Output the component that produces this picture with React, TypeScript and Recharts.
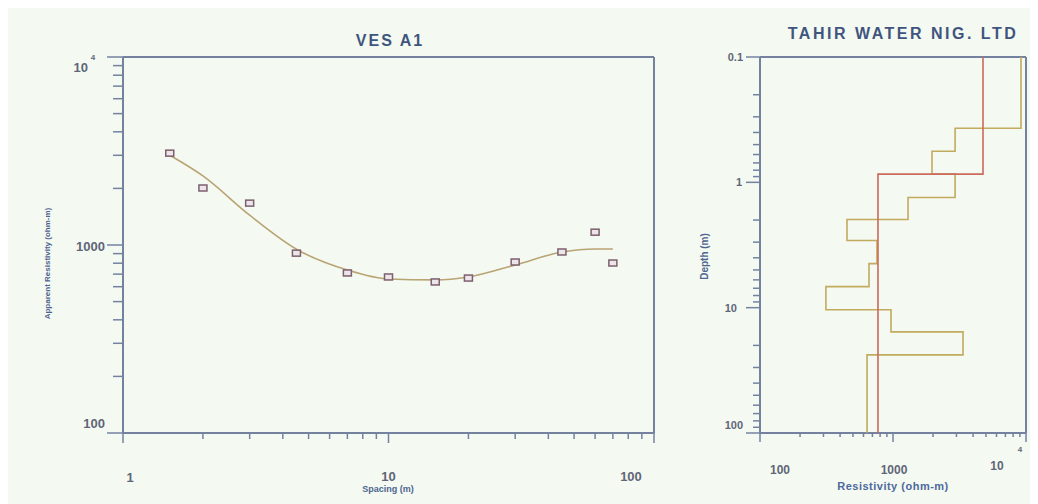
import React from "react";
import { ScatterChart, Scatter, XAxis, YAxis } from "recharts";

// VES A1 field data (AB/2 spacing vs apparent resistivity)
const spacing = [1.5, 2, 3, 4.5, 7, 10, 15, 20, 30, 45, 60, 70];
const apparentRes = [3080, 2010, 1670, 905, 710, 676, 636, 667, 812, 918, 1170, 802];

// computed model curve
const curveSpacing = [1.5, 2, 3, 4.5, 7, 10, 15, 20, 30, 45, 60, 70];
const curveRes = [3000, 2330, 1440, 950, 736, 659, 652, 676, 783, 918, 953, 953];

// layered models (resistivity per layer, depth boundaries)
const modelRes = [4750, 771];
const modelDepth = [0.1, 0.86, 100];
const altRes = [9170, 2930, 1965, 2930, 1297, 451, 758, 660, 313, 966, 3360, 638];
const altDepth = [0.1, 0.37, 0.565, 0.86, 1.32, 1.98, 2.91, 4.45, 6.79, 10.4, 15.6, 23.8, 100];

const spacingTicks = [1, 2, 3, 4, 5, 6, 7, 8, 9, 10, 20, 30, 40, 50, 60, 70, 80, 90, 100];
const appResTicks = [100, 200, 300, 400, 500, 600, 700, 800, 900, 1000, 2000, 3000, 4000, 5000, 6000, 7000, 8000, 9000, 10000];
const depthTicks = [0.1, 0.2, 0.3, 0.4, 0.5, 0.6, 0.7, 0.8, 0.9, 1, 2, 3, 4, 5, 6, 7, 8, 9, 10, 20, 30, 40, 50, 60, 70, 80, 90, 100];
const resTicks = [100, 200, 300, 400, 500, 600, 700, 800, 900, 1000, 2000, 3000, 4000, 5000, 6000, 7000, 8000, 9000, 10000];

const fieldData = spacing.map((s, i) => ({ x: s, y: apparentRes[i] }));
const curveData = curveSpacing.map((s, i) => ({ x: s, y: curveRes[i] }));

function stepData(res: number[], depth: number[]) {
  const pts: { x: number; y: number }[] = [];
  res.forEach((r, i) => {
    pts.push({ x: r, y: depth[i] });
    pts.push({ x: r, y: depth[i + 1] });
  });
  return pts;
}
const modelData = stepData(modelRes, modelDepth);
const altData = stepData(altRes, altDepth);

const AXIS = "#7482a0";
const LABEL = "#5f6678";
const FONT = "'Liberation Sans', Arial, sans-serif";

type Lab = { text: string; sup?: string; dx: number; dy: number; anchor?: string; sdx?: number; sdy?: number };
type TickCfg = {
  side: "left" | "right" | "top" | "bottom";
  majors: number[];
  major: number;
  minor: number;
  size?: number;
  labels?: Record<string, Lab>;
};

function makeTick(cfg: TickCfg) {
  return (props: any) => {
    const { x, y, payload } = props;
    const v = payload.value;
    const isMajor = cfg.majors.some((m) => Math.abs(m - v) / m < 1e-6);
    const len = isMajor ? cfg.major : cfg.minor;
    let x2 = x;
    let y2 = y;
    if (cfg.side === "left" || cfg.side === "right") x2 = x - len;
    else y2 = y + len;
    const lab = cfg.labels ? cfg.labels[String(v)] : undefined;
    return (
      <g>
        <line x1={x} y1={y} x2={x2} y2={y2} stroke={AXIS} strokeWidth={1.5} />
        {lab && (
          <text
            x={x + lab.dx}
            y={y + lab.dy}
            textAnchor={lab.anchor || "middle"}
            dominantBaseline="central"
            fill={LABEL}
            fontFamily={FONT}
            fontWeight="bold"
            fontSize={cfg.size || 13}
          >
            {lab.text}
          </text>
        )}
        {lab && lab.sup && (
          <text
            x={x + (lab.sdx || 0)}
            y={y + (lab.sdy || 0)}
            textAnchor="middle"
            dominantBaseline="central"
            fill={LABEL}
            fontFamily={FONT}
            fontWeight="bold"
            fontSize={8}
          >
            {lab.sup}
          </text>
        )}
      </g>
    );
  };
}

const Square = (props: any) => {
  const { cx, cy } = props;
  return <rect x={cx - 4} y={cy - 3} width={8} height={6} fill="#ece6ea" stroke="#7d5f6e" strokeWidth={1.5} />;
};
const NoDot = () => <g />;

export default function App() {
  return (
    <div style={{ position: "relative", width: 1030, height: 496, background: "#f4f9f2", fontFamily: FONT }}>
      {/* left: sounding curve */}
      <div style={{ position: "absolute", left: 0, top: 0 }}>
        <ScatterChart width={680} height={496} margin={{ top: 48, right: 33, bottom: 31, left: 55 }}>
          <XAxis
            type="number"
            dataKey="x"
            scale="log"
            domain={[1, 100]}
            ticks={spacingTicks}
            interval={0}
            height={40}
            tickSize={0}
            tickMargin={0}
            stroke={AXIS}
            strokeWidth={2}
            tickLine={false}
            tick={makeTick({
              side: "bottom",
              majors: [1, 10, 100],
              major: 10,
              minor: 6,
              labels: {
                "1": { text: "1", dx: 7, dy: 44 },
                "10": { text: "10", dx: 0, dy: 43 },
                "100": { text: "100", dx: -23, dy: 43 },
              },
            })}
          />
          <XAxis
            xAxisId="top"
            orientation="top"
            type="number"
            scale="log"
            domain={[1, 100]}
            ticks={[10]}
            interval={0}
            height={1}
            tickSize={0}
            tickMargin={0}
            stroke={AXIS}
            strokeWidth={2}
            tickLine={false}
            tick={makeTick({ side: "top", majors: [10], major: 10, minor: 0 })}
          />
          <YAxis
            type="number"
            dataKey="y"
            scale="log"
            domain={[100, 10000]}
            ticks={appResTicks}
            interval={0}
            width={60}
            tickSize={0}
            tickMargin={0}
            stroke={AXIS}
            strokeWidth={2}
            tickLine={false}
            tick={makeTick({
              side: "left",
              majors: [100, 1000, 10000],
              major: 16,
              minor: 10,
              labels: {
                "100": { text: "100", dx: -18, dy: -10, anchor: "end" },
                "1000": { text: "1000", dx: -18, dy: 1, anchor: "end" },
                "10000": { text: "10", dx: -35, dy: 10, anchor: "end", sup: "4", sdx: -30, sdy: 0 },
              },
            })}
          />
          <YAxis
            yAxisId="right"
            orientation="right"
            type="number"
            scale="log"
            domain={[100, 10000]}
            ticks={[1000]}
            interval={0}
            width={1}
            tickSize={0}
            tickMargin={0}
            stroke={AXIS}
            strokeWidth={2}
            tickLine={false}
            tick={makeTick({ side: "right", majors: [1000], major: 18, minor: 0 })}
          />
          <Scatter
            data={curveData}
            shape={NoDot}
            line={{ stroke: "#b9a473", strokeWidth: 1.6 }}
            lineJointType="monotoneX"
            isAnimationActive={false}
          />
          <Scatter data={fieldData} shape={Square} isAnimationActive={false} />
        </ScatterChart>
      </div>

      {/* right: layered model */}
      <div style={{ position: "absolute", left: 680, top: 0 }}>
        <ScatterChart width={350} height={496} margin={{ top: 48, right: 11, bottom: 31, left: 12 }}>
          <XAxis
            type="number"
            dataKey="x"
            scale="log"
            domain={[100, 10000]}
            ticks={resTicks}
            interval={0}
            height={40}
            tickSize={0}
            tickMargin={0}
            stroke={AXIS}
            strokeWidth={2}
            tickLine={false}
            tick={makeTick({
              side: "bottom",
              majors: [100, 1000, 10000],
              major: 9,
              minor: 4,
              size: 12,
              labels: {
                "100": { text: "100", dx: 20, dy: 37 },
                "1000": { text: "1000", dx: 1, dy: 37 },
                "10000": { text: "10", dx: -29, dy: 33, sup: "4", sdx: -6, sdy: 16 },
              },
            })}
          />
          <XAxis
            xAxisId="top"
            orientation="top"
            type="number"
            scale="log"
            domain={[100, 10000]}
            ticks={[1000]}
            interval={0}
            height={1}
            tickSize={0}
            tickMargin={0}
            stroke={AXIS}
            strokeWidth={2}
            tickLine={false}
            tick={makeTick({ side: "top", majors: [1000], major: 7, minor: 0 })}
          />
          <YAxis
            type="number"
            dataKey="y"
            scale="log"
            reversed
            domain={[0.1, 100]}
            ticks={depthTicks}
            interval={0}
            width={60}
            tickSize={0}
            tickMargin={0}
            stroke={AXIS}
            strokeWidth={2}
            tickLine={false}
            tick={makeTick({
              side: "left",
              majors: [0.1, 1, 10, 100],
              major: 14,
              minor: 7,
              size: 11,
              labels: {
                "0.1": { text: "0.1", dx: -17, dy: 0, anchor: "end" },
                "1": { text: "1", dx: -18, dy: 0, anchor: "end" },
                "10": { text: "10", dx: -23, dy: 0, anchor: "end" },
                "100": { text: "100", dx: -17, dy: -8, anchor: "end" },
              },
            })}
          />
          <YAxis
            yAxisId="right"
            orientation="right"
            type="number"
            scale="log"
            reversed
            domain={[0.1, 100]}
            ticks={[1, 10]}
            interval={0}
            width={1}
            tickSize={0}
            tickMargin={0}
            stroke={AXIS}
            strokeWidth={2}
            tickLine={false}
            tick={makeTick({ side: "right", majors: [1, 10], major: 11, minor: 0 })}
          />
          <Scatter
            data={altData}
            shape={NoDot}
            line={{ stroke: "#c2ab5e", strokeWidth: 1.6 }}
            lineJointType="linear"
            isAnimationActive={false}
          />
          <Scatter
            data={modelData}
            shape={NoDot}
            line={{ stroke: "#cc6a5c", strokeWidth: 1.6 }}
            lineJointType="linear"
            isAnimationActive={false}
          />
        </ScatterChart>
      </div>

      {/* titles and axis names */}
      <div style={{ position: "absolute", left: 282, top: 24, width: 200, textAlign: "center", fontSize: 16, fontWeight: "bold", letterSpacing: 2, color: "#40557e" }}>
        VES A1
      </div>
      <div style={{ position: "absolute", left: 745, top: 17, width: 300, textAlign: "center", fontSize: 16, fontWeight: "bold", letterSpacing: 2.5, color: "#40557e" }}>
        TAHIR WATER NIG. LTD
      </div>
      <div style={{ position: "absolute", left: 330, top: 476, width: 100, textAlign: "center", fontSize: 9, fontWeight: "bold", color: "#4e6590" }}>
        Spacing (m)
      </div>
      <div style={{ position: "absolute", left: 805, top: 472, width: 160, textAlign: "center", fontSize: 11, fontWeight: "bold", letterSpacing: 0.5, color: "#4e6a9c" }}>
        Resistivity (ohm-m)
      </div>
      <div
        style={{
          position: "absolute",
          left: 39 - 70,
          top: 257 - 6,
          width: 140,
          textAlign: "center",
          fontSize: 8,
          fontWeight: "bold",
          color: "#4e6590",
          transform: "rotate(-90deg)",
        }}
      >
        Apparent Resistivity (ohm-m)
      </div>
      <div
        style={{
          position: "absolute",
          left: 696 - 50,
          top: 250 - 7,
          width: 100,
          textAlign: "center",
          fontSize: 10,
          fontWeight: "bold",
          color: "#4e6590",
          transform: "rotate(-90deg)",
        }}
      >
        Depth (m)
      </div>
    </div>
  );
}
